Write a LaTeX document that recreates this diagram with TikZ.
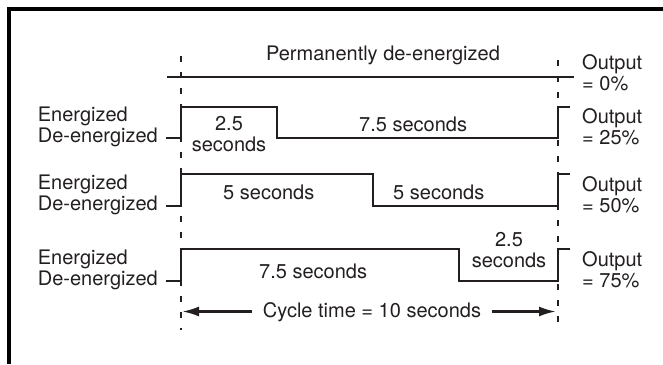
\documentclass[tikz,border=0pt]{standalone}
\usepackage{fontspec}
\setmainfont{TeX Gyre Heros}
\usetikzlibrary{positioning}
\usetikzlibrary{arrows.meta}
\definecolor{ink}{HTML}{231F20}

\begin{document}
\begin{tikzpicture}
	[	x=1pt, y=-1pt,					% единица = 1 пиксель, ось y вниз
		font=\fontsize{20}{21}\selectfont,
		every node/.style={text=ink, inner sep=0pt},
		signal/.style={line width=2.6pt, ink, line join=miter},
		marker/.style={line width=1.1pt, ink, dash pattern=on 6pt off 10pt},
		state/.style={align=left, anchor=east},
		output/.style={align=left, anchor=west},
		span/.style={line width=2.4pt, ink, -{Latex[length=17pt,width=10pt]}}	]
	\useasboundingbox (0,0) rectangle (663,364);
	\draw[line width=3.2pt] (9,364) -- (9,9) -- (663,9);		% рамка
	\draw[marker] (181,56) -- (181,330);						% начало цикла
	\draw[marker] (558,60) -- (558,323);						% конец цикла
	\node (perm) at (383,55) {Permanently de-energized};
	\draw[signal] (167,77) -- (574,77);						% выход 0%
	\node[output] (out0) at (582,72.3) {Output\\= 0\%};
	\foreach \n/\lo/\hi/\fall/\pct in {1/138/107/277/25, 2/206/174/373/50, 3/281/249/459/75}
	{
		\draw[signal] (166,\lo) -- (181,\lo) -- (181,\hi) -- (\fall,\hi) -- (\fall,\lo)
			-- (558,\lo) -- (558,\hi) -- (570,\hi);			% импульс
		\node[state] (state\n) at (158,\lo-11) {Energized\\De-energized};
		\node[output] (out\n) at (582,\lo-11) {Output\\= \pct\%};
	}
	\node[align=center] (on1) at (229,134) {2.5\\seconds};
	\node[anchor=base west] (off1) at (359,131.5) {7.5 seconds};
	\node[anchor=base west] (on2) at (223,199) {5 seconds};
	\node[anchor=base west] (off2) at (393,199) {5 seconds};
	\node[anchor=base west] (on3) at (259,278) {7.5 seconds};
	\node[align=center] (off3) at (509,250.3) {2.5\\seconds};
	\node[anchor=base, inner xsep=11pt] (cycle) at (372,317) {Cycle time = 10 seconds};
	\coordinate (cstart) at (182,311.5);
	\coordinate (cend) at (556,311.5);
	\draw[span] (cycle.west |- cstart) -- (cstart);			% стрелка влево
	\draw[span] (cycle.east |- cend) -- (cend);				% стрелка вправо
\end{tikzpicture}
\end{document}
